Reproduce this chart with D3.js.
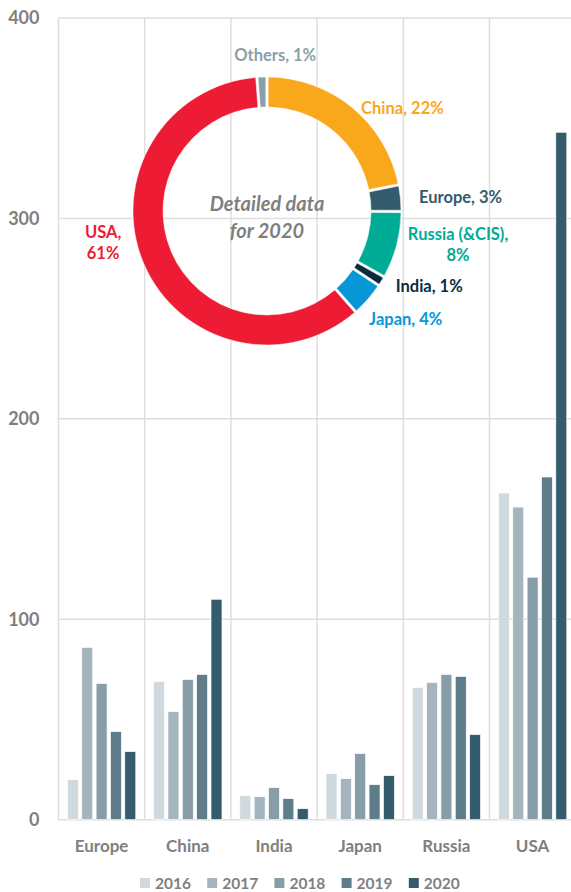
<html>
<head>
<script src="https://cdn.jsdelivr.net/npm/d3@7"></script>
<style>
  body { margin: 0; background: #fff; }
  text { font-family: Lato, 'Open Sans', sans-serif; font-weight: bold; }
</style>
</head>
<body>
<svg id="chart" width="571" height="892"></svg>
<script>
// bar data
var regions = ["Europe", "China", "India", "Japan", "Russia", "USA"];
var years = ["2016", "2017", "2018", "2019", "2020"];
var v2016 = [20, 69, 12, 23, 66, 163];
var v2017 = [86, 54, 11.5, 20.5, 68.5, 156];
var v2018 = [68, 70, 16, 33, 72.5, 121];
var v2019 = [44, 72.5, 10.5, 17.5, 71.5, 171];
var v2020 = [34, 110, 5.5, 22, 42.5, 343];
var yTicks = [0, 100, 200, 300, 400];

// donut data for 2020 (clockwise from top)
var shareNames = ["China", "Europe", "Russia (&CIS)", "India", "Japan", "USA", "Others"];
var shareValues = [22, 3, 8, 1, 4, 61, 1];

var yearColors = ["#cfd9de", "#a5b5bd", "#879ea9", "#5f7c8a", "#345c6d"];
var shareColors = ["#f9a81b", "#345c6d", "#00ab96", "#0d2b3e", "#0797d8", "#ed1b33", "#8a9faa"];

var svg = d3.select("#chart");
var series = [v2016, v2017, v2018, v2019, v2020];

var x0 = d3.scaleBand().domain(regions).range([58.5, 575.7]).padding(0);
var x1 = d3.scaleBand().domain(years).range([0, x0.bandwidth()])
    .paddingInner(0.233).paddingOuter(0.62);
var y = d3.scaleLinear().domain([0, 400]).range([819.7, 18]);

var grid = svg.append("g").attr("stroke", "#dedede").attr("stroke-width", 1.5);
// horizontal grid
grid.selectAll("line.h").data(yTicks).enter().append("line")
    .attr("x1", 58.5).attr("x2", 571)
    .attr("y1", function(d) { return y(d); })
    .attr("y2", function(d) { return y(d); });
// vertical grid at category boundaries
grid.selectAll("line.v").data(regions).enter().append("line")
    .attr("x1", function(d) { return x0(d); })
    .attr("x2", function(d) { return x0(d); })
    .attr("y1", y(400)).attr("y2", y(0));

// y axis labels
svg.append("g").selectAll("text").data(yTicks).enter().append("text")
    .attr("x", 39.5)
    .attr("y", function(d) { return y(d); })
    .attr("dy", "0.35em")
    .attr("text-anchor", "end")
    .attr("fill", "#7f7f7f")
    .style("font-size", "18px")
    .text(function(d) { return d; });

// x axis labels
svg.append("g").selectAll("text").data(regions).enter().append("text")
    .attr("x", function(d) { return x0(d) + x0.bandwidth() / 2; })
    .attr("y", 852)
    .attr("text-anchor", "middle")
    .attr("fill", "#7f7f7f")
    .style("font-size", "17px")
    .text(function(d) { return d; });

// bars
var groups = svg.append("g").selectAll("g").data(regions).enter().append("g")
    .attr("transform", function(d) { return "translate(" + x0(d) + ",0)"; });

groups.selectAll("rect")
    .data(function(d, i) {
        return years.map(function(yr, j) { return { year: yr, value: series[j][i], idx: j }; });
    })
    .enter().append("rect")
    .attr("x", function(d) { return x1(d.year); })
    .attr("width", x1.bandwidth())
    .attr("y", function(d) { return y(d.value); })
    .attr("height", function(d) { return y(0) - y(d.value); })
    .attr("fill", function(d) { return yearColors[d.idx]; })
    .attr("stroke", "#fff")
    .attr("stroke-width", 0.7);

// legend
var legend = svg.append("g").selectAll("g").data(years).enter().append("g")
    .attr("transform", function(d, i) { return "translate(" + (140 + i * 67.2) + ",878)"; });
legend.append("rect")
    .attr("width", 10).attr("height", 10)
    .attr("fill", function(d, i) { return yearColors[i]; });
legend.append("text")
    .attr("x", 15).attr("y", 10.5)
    .attr("fill", "#7f7f7f")
    .style("font-size", "15.5px")
    .text(function(d) { return d; });

// donut
var cx = 267, cy = 211;
var pie = d3.pie().sort(null).padAngle(0.014);
var arc = d3.arc().innerRadius(104).outerRadius(134);
var donut = svg.append("g").attr("transform", "translate(" + cx + "," + cy + ")");

donut.selectAll("path").data(pie(shareValues)).enter().append("path")
    .attr("d", arc)
    .attr("fill", function(d, i) { return shareColors[i]; })
    .attr("stroke", "#fff")
    .attr("stroke-width", 0.5);

// label placement: angle (deg, clockwise from top) and radius from donut centre
var labelAt = [[52.8, 170], [86, 194], [100, 194], [115, 179], [128, 176], [259, 167], [3, 156]];
var labelLines = function(i) {
    var pct = shareValues[i] + "%";
    if (i === 2) return ["Russia (&CIS),", pct];
    if (i === 5) return ["USA,", pct];
    return [shareNames[i] + ", " + pct];
};

var labels = donut.selectAll("text.lab").data(shareValues).enter().append("text")
    .attr("class", "lab")
    .attr("text-anchor", "middle")
    .attr("fill", function(d, i) { return shareColors[i]; })
    .style("font-size", "16.5px")
    .attr("transform", function(d, i) {
        var a = labelAt[i][0] * Math.PI / 180, r = labelAt[i][1];
        return "translate(" + (r * Math.sin(a)) + "," + (-r * Math.cos(a)) + ")";
    });

labels.each(function(d, i) {
    var lines = labelLines(i);
    var t = d3.select(this);
    lines.forEach(function(l, k) {
        t.append("tspan")
            .attr("x", 0)
            .attr("y", (k - (lines.length - 1) / 2) * 21.5)
            .attr("dy", "0.35em")
            .text(l);
    });
});

// centre text
var centre = donut.append("text")
    .attr("text-anchor", "middle")
    .attr("fill", "#7f7f7f")
    .style("font-size", "20px")
    .style("font-style", "italic");
centre.append("tspan").attr("x", 0).attr("y", 0).text("Detailed data");
centre.append("tspan").attr("x", 0).attr("y", 27).text("for 2020");
</script>
</body>
</html>
